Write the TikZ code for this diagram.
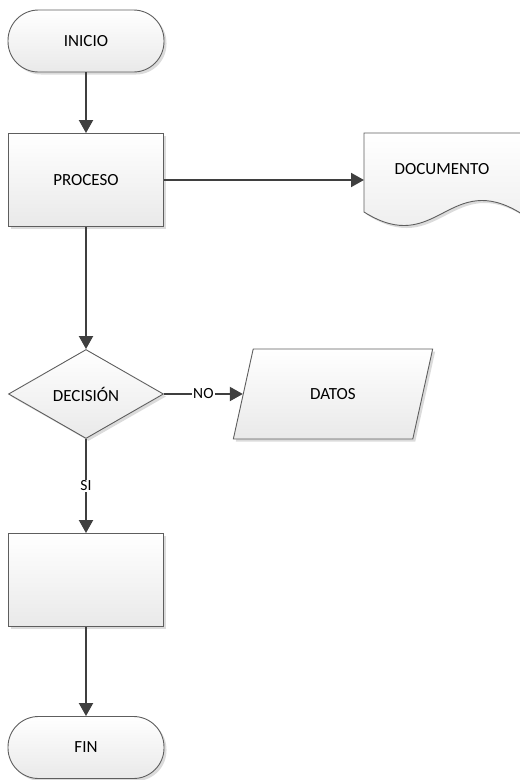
\documentclass[tikz,border=0pt]{standalone}
\usepackage{fontspec}
\setmainfont{Carlito}
\usetikzlibrary{shapes.geometric,arrows.meta,shadows}
\definecolor{edge}{HTML}{5E5E5E}
\definecolor{wire}{HTML}{3F3F3F}
\definecolor{fillbot}{HTML}{E9E9E9}
\tikzset{
  shapebase/.style={draw=edge, line width=0.9pt, top color=white, bottom color=fillbot,
    drop shadow={shadow xshift=2.5pt, shadow yshift=-2.5pt, fill=black, opacity=0.14},
    font=\fontsize{17}{20}\selectfont, text=black, inner sep=0pt},
  terminal/.style={shapebase, rectangle, rounded corners=30.5pt, minimum width=156pt, minimum height=62pt},
  procbox/.style={shapebase, rectangle, minimum width=155pt, minimum height=93pt},
  decision/.style={shapebase, diamond, aspect=1.74, minimum width=155pt, minimum height=89pt},
  iobox/.style={shapebase, trapezium, trapezium left angle=63, trapezium right angle=117,
    trapezium stretches=true, minimum width=200pt, minimum height=90pt},
  txt/.style={font=\fontsize{17}{20}\selectfont, inner sep=0pt},
  flow/.style={draw=wire, line width=2pt, -{Triangle[length=13pt,width=14pt]}},
  lbl/.style={fill=white, font=\fontsize{15.5}{18}\selectfont, inner sep=1pt},
}
\begin{document}
\begin{tikzpicture}[x=1pt,y=-1pt]
  \useasboundingbox (0,0) rectangle (520,780);

  % flow chart nodes
  \node[terminal] (inicio) at (86,41) {INICIO};
  \node[procbox]  (proc)   at (86,180) {PROCESO};
  \node[decision] (dec)    at (86,394) {DECISIÓN};
  \node[iobox]    (datos)  at (333,394) {DATOS};
  \node[procbox]  (blank)  at (86,580) {};
  \node[terminal] (fin)    at (86,747.5) {FIN};

  % document symbol with a wavy lower edge
  \node[anchor=north west, minimum width=158pt, minimum height=80pt, inner sep=0pt] (doc) at (364,133) {};
  \path[shapebase] (doc.north west) -- (522,133) -- (522,214)
     .. controls (449,168) and (437,258) .. (364,212) -- cycle;
  \node[txt] (doctext) at (442,169) {DOCUMENTO};

  % connectors
  \draw[flow] (inicio) -- (proc);
  \draw[flow] (proc) -- (doc.west |- proc.east);
  \draw[flow] (proc) -- (dec);
  \draw[flow] (dec) -- node[lbl] {NO} (datos.left side);
  \draw[flow] (dec) -- node[lbl] {SI} (blank);
  \draw[flow] (blank) -- (fin);
\end{tikzpicture}
\end{document}
